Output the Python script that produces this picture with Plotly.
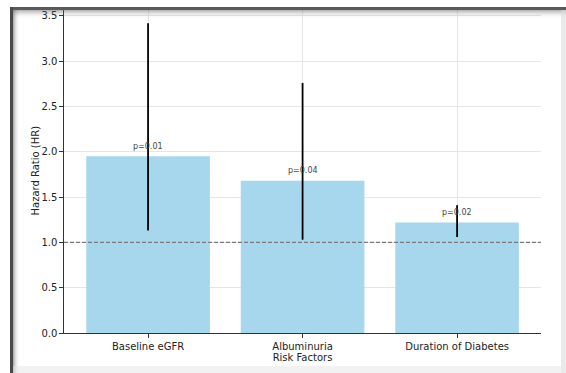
import plotly.graph_objects as go

# ---- data ----
categories = ["Baseline eGFR", "Albuminuria", "Duration of Diabetes"]
hazard_ratio = [1.95, 1.68, 1.22]
ci_lower = [1.13, 1.03, 1.06]
ci_upper = [3.42, 2.76, 1.41]
p_labels = ["p=0.01", "p=0.04", "p=0.02"]
reference_hr = 1.0

W, H = 566, 373
L, R, T, B = 64, 25, 8, 40
PW, PH = W - L - R, H - T - B

def px_x(x):
    return (x - L) / PW

def px_y(y):
    return (H - B - y) / PH

err_plus = [u - v for u, v in zip(ci_upper, hazard_ratio)]
err_minus = [v - l for v, l in zip(hazard_ratio, ci_lower)]

fig = go.Figure()
fig.add_trace(go.Bar(
    x=categories, y=hazard_ratio, width=0.8,
    marker=dict(color="#a7d7ec", line=dict(width=0)),
    error_y=dict(type="data", symmetric=False, array=err_plus, arrayminus=err_minus,
                 color="black", thickness=1.8, width=0),
    showlegend=False, hoverinfo="skip",
))

annotations = []
for c, v, p in zip(categories, hazard_ratio, p_labels):
    annotations.append(dict(x=c, y=v + 0.04, text=p, showarrow=False, xanchor="center",
                            yanchor="bottom", font=dict(size=8, color="#444", family="DejaVu Sans")))
annotations.append(dict(xref="paper", yref="paper", x=px_x(35), y=0.5, text="Hazard Ratio (HR)",
                        textangle=-90, showarrow=False, xanchor="center", yanchor="middle",
                        font=dict(size=10, color="#222", family="DejaVu Sans")))

shapes = [
    dict(type="line", xref="paper", yref="y", x0=0, x1=1, y0=reference_hr, y1=reference_hr,
         line=dict(color="#7a7a7a", width=1.3, dash="4px,2px"), layer="above"),
]

# screenshot frame: shadows
def rect(x0, y0, x1, y1, color, op=1.0):
    return dict(type="rect", xref="paper", yref="paper",
                x0=px_x(x0), x1=px_x(x1), y0=px_y(y1), y1=px_y(y0),
                fillcolor=color, opacity=op, line=dict(width=0), layer="above")

# white margins outside the frame
shapes.append(rect(0, 0, W, 7, "white"))
shapes.append(rect(0, 0, 10, H, "white"))
# top dark edge + gradient
shapes.append(rect(10, 7, W, 10, "#5a5a5a"))
for i, op in enumerate([0.45, 0.35, 0.26, 0.18, 0.12, 0.07, 0.04, 0.02]):
    shapes.append(rect(10, 10 + i, W, 11 + i, "#606060", op))
# left dark edge + gradient
shapes.append(rect(10, 7, 13, H, "#4a4a4a"))
for i, op in enumerate([0.5, 0.35, 0.22, 0.13, 0.07, 0.03]):
    shapes.append(rect(13 + i, 10, 14 + i, H, "#606060", op))
# right light edge
shapes.append(rect(561, 10, W, H, "#dcdcdc", 0.6))
# bottom light edge
shapes.append(rect(13, 366, 561, H, "#e6e6e6", 0.5))

fig.update_layout(
    width=W, height=H,
    margin=dict(l=L, r=R, t=T, b=B),
    plot_bgcolor="white", paper_bgcolor="white",
    font=dict(family="DejaVu Sans", size=10, color="#222"),
    bargap=0.2,
    xaxis=dict(
        range=[-0.544, 2.543], showgrid=True, gridcolor="#e6e6e6", gridwidth=1,
        showline=True, linecolor="#333", linewidth=1.2,
        ticks="outside", ticklen=3.5, tickcolor="#333", tickwidth=1,
        tickfont=dict(size=10, color="#222"), automargin=False,
        title=dict(text="Risk Factors", font=dict(size=10, color="#222"), standoff=2),
        zeroline=False,
    ),
    yaxis=dict(
        range=[0, 3.587], tickvals=[0, 0.5, 1, 1.5, 2, 2.5, 3, 3.5],
        ticktext=["0.0", "0.5", "1.0", "1.5", "2.0", "2.5", "3.0", "3.5"],
        showgrid=True, gridcolor="#e6e6e6", gridwidth=1,
        showline=True, linecolor="#333", linewidth=1.2,
        ticks="outside", ticklen=3.5, tickcolor="#333", tickwidth=1,
        tickfont=dict(size=10, color="#222"), automargin=False,
        zeroline=False,
    ),
    annotations=annotations,
    shapes=shapes,
)

fig.write_html("out.html", config={"displayModeBar": False},
               post_script="document.body.style.margin='0';")
